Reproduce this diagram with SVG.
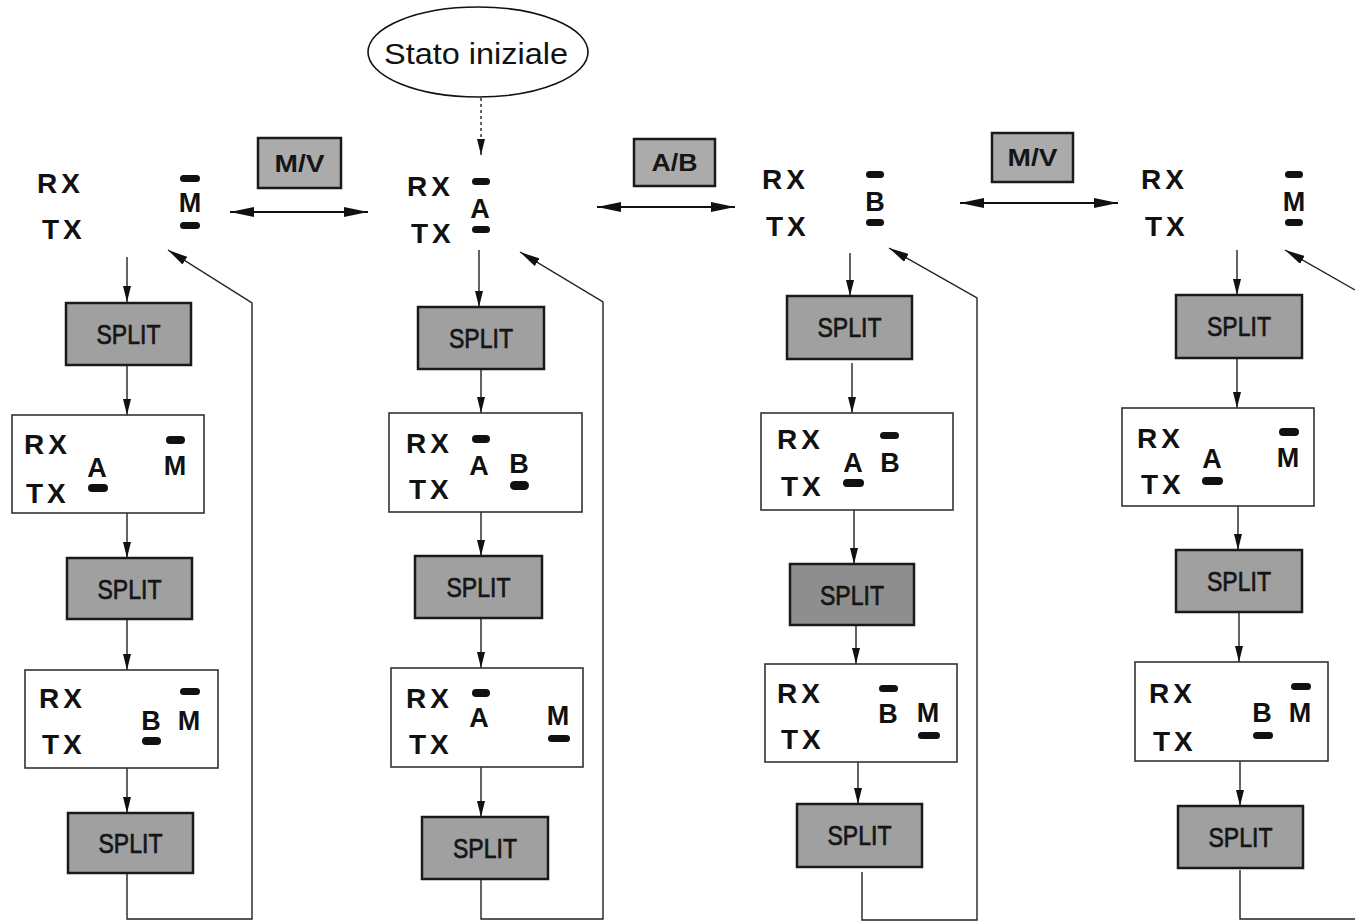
<svg xmlns="http://www.w3.org/2000/svg" width="1355" height="922" viewBox="0 0 1355 922">
<defs>
<style>
.rt{font-family:"Liberation Sans",Arial,sans-serif;font-weight:bold;font-size:28px;letter-spacing:4px;fill:#111}
.lt{font-family:"Liberation Sans",Arial,sans-serif;font-weight:bold;font-size:27px;text-anchor:middle;fill:#111}
.sp{fill:#a0a0a0;stroke:#1a1a1a;stroke-width:2.5}
.spt{font-family:"Liberation Sans",Arial,sans-serif;font-size:27px;text-anchor:middle;fill:#151515;stroke:#151515;stroke-width:0.7}
.wb{fill:#fff;stroke:#333;stroke-width:1.6}
.bar{fill:#111}
.sw{fill:#ababab;stroke:#1a1a1a;stroke-width:2.5}
.swt{font-family:"Liberation Sans",Arial,sans-serif;font-weight:bold;font-size:24px;text-anchor:middle;fill:#151515}
.ln{fill:none;stroke:#222;stroke-width:1.4}
.dl{fill:none;stroke:#111;stroke-width:2.2}
</style>
<marker id="ah" viewBox="0 0 16 8" refX="16" refY="4" markerWidth="16" markerHeight="8" markerUnits="userSpaceOnUse" orient="auto"><path d="M0,0 L16,4 L0,8 Z" fill="#111"/></marker>
<marker id="ad" viewBox="0 0 20 9" refX="20" refY="4.5" markerWidth="20" markerHeight="9" markerUnits="userSpaceOnUse" orient="auto"><path d="M0,0 L20,4.5 L0,9 Z" fill="#111"/></marker>
<marker id="ab" viewBox="0 0 24 10" refX="24" refY="5" markerWidth="24" markerHeight="10" markerUnits="userSpaceOnUse" orient="auto-start-reverse"><path d="M0,0 L24,5 L0,10 Z" fill="#111"/></marker>
</defs>
<rect width="1355" height="922" fill="#fff"/>

<g id="connectors">
<line x1="481" y1="98" x2="481" y2="155" class="ln" stroke-dasharray="3,3" marker-end="url(#ah)"/>
<line x1="230" y1="212" x2="368" y2="212" class="dl" marker-start="url(#ab)" marker-end="url(#ab)"/>
<line x1="597" y1="207" x2="735" y2="207" class="dl" marker-start="url(#ab)" marker-end="url(#ab)"/>
<line x1="960" y1="203" x2="1118" y2="203" class="dl" marker-start="url(#ab)" marker-end="url(#ab)"/>
<line x1="127" y1="257" x2="127" y2="302" class="ln" marker-end="url(#ah)"/>
<line x1="127" y1="365" x2="127" y2="415" class="ln" marker-end="url(#ah)"/>
<line x1="127" y1="513" x2="127" y2="558" class="ln" marker-end="url(#ah)"/>
<line x1="127" y1="619" x2="127" y2="670" class="ln" marker-end="url(#ah)"/>
<line x1="127" y1="768" x2="127" y2="813" class="ln" marker-end="url(#ah)"/>
<path d="M127,873 V919 H252 V303 L168,250" class="ln" marker-end="url(#ad)"/>
<line x1="479" y1="250" x2="479" y2="307" class="ln" marker-end="url(#ah)"/>
<line x1="481" y1="369" x2="481" y2="413" class="ln" marker-end="url(#ah)"/>
<line x1="481" y1="512" x2="481" y2="556" class="ln" marker-end="url(#ah)"/>
<line x1="481" y1="618" x2="481" y2="668" class="ln" marker-end="url(#ah)"/>
<line x1="481" y1="767" x2="481" y2="817" class="ln" marker-end="url(#ah)"/>
<path d="M481,879 V919 H603 V302 L520,252" class="ln" marker-end="url(#ad)"/>
<line x1="850" y1="253" x2="850" y2="296" class="ln" marker-end="url(#ah)"/>
<line x1="852" y1="363" x2="852" y2="413" class="ln" marker-end="url(#ah)"/>
<line x1="854" y1="510" x2="854" y2="564" class="ln" marker-end="url(#ah)"/>
<line x1="856" y1="625" x2="856" y2="664" class="ln" marker-end="url(#ah)"/>
<line x1="858" y1="762" x2="858" y2="804" class="ln" marker-end="url(#ah)"/>
<path d="M862,872 V920 H977 V298 L889,248" class="ln" marker-end="url(#ad)"/>
<line x1="1237" y1="250" x2="1237" y2="295" class="ln" marker-end="url(#ah)"/>
<line x1="1237" y1="358" x2="1237" y2="408" class="ln" marker-end="url(#ah)"/>
<line x1="1238" y1="506" x2="1238" y2="550" class="ln" marker-end="url(#ah)"/>
<line x1="1239" y1="612" x2="1239" y2="662" class="ln" marker-end="url(#ah)"/>
<line x1="1240" y1="761" x2="1240" y2="806" class="ln" marker-end="url(#ah)"/>
<path d="M1240,870 V919 H1355" class="ln"/>
<path d="M1355,290 L1285,250" class="ln" marker-end="url(#ad)"/>
</g>

<g id="init">
<ellipse cx="478" cy="52" rx="110" ry="45" fill="#fff" stroke="#111" stroke-width="1.6"/>
<text x="476" y="64" font-family="Liberation Sans, Arial, sans-serif" font-size="30" text-anchor="middle" fill="#111" textLength="184" lengthAdjust="spacingAndGlyphs">Stato iniziale</text>
</g>

<g id="sw1"><rect x="258" y="138" width="83" height="50" class="sw"/><text x="299.5" y="172" class="swt" textLength="50" lengthAdjust="spacingAndGlyphs">M/V</text></g>
<g id="sw2"><rect x="634" y="139" width="81" height="47" class="sw"/><text x="674.5" y="171" class="swt" textLength="46" lengthAdjust="spacingAndGlyphs">A/B</text></g>
<g id="sw3"><rect x="992" y="133" width="81" height="49" class="sw"/><text x="1032.5" y="166" class="swt" textLength="50" lengthAdjust="spacingAndGlyphs">M/V</text></g>

<g id="c1-head">
<text x="37" y="193" class="rt">RX</text><text x="42" y="239" class="rt">TX</text>
<rect x="180" y="175" width="20" height="7" rx="3.5" class="bar"/>
<text x="190" y="212" class="lt">M</text>
<rect x="180" y="222" width="20" height="7" rx="3.5" class="bar"/>
</g>
<g id="c1-split1"><rect x="66" y="303" width="125" height="62" class="sp"/><text x="128.5" y="344" class="spt" textLength="64" lengthAdjust="spacingAndGlyphs">SPLIT</text></g>
<g id="c1-box1">
<rect x="12" y="415" width="192" height="98" class="wb"/>
<text x="24" y="454" class="rt">RX</text><text x="26" y="503" class="rt">TX</text>
<text x="97" y="477" class="lt">A</text><rect x="88" y="484" width="20" height="8" rx="4" class="bar"/>
<rect x="166" y="436" width="19" height="8" rx="4" class="bar"/><text x="175" y="475" class="lt">M</text>
</g>
<g id="c1-split2"><rect x="67" y="558" width="125" height="61" class="sp"/><text x="129.5" y="599" class="spt" textLength="64" lengthAdjust="spacingAndGlyphs">SPLIT</text></g>
<g id="c1-box2">
<rect x="25" y="670" width="193" height="98" class="wb"/>
<text x="39" y="708" class="rt">RX</text><text x="42" y="754" class="rt">TX</text>
<text x="151" y="730" class="lt">B</text><rect x="142" y="737" width="19" height="8" rx="4" class="bar"/>
<rect x="180" y="688" width="20" height="7" rx="3.5" class="bar"/><text x="189" y="730" class="lt">M</text>
</g>
<g id="c1-split3"><rect x="68" y="813" width="125" height="60" class="sp"/><text x="130.5" y="853" class="spt" textLength="64" lengthAdjust="spacingAndGlyphs">SPLIT</text></g>

<g id="c2-head">
<text x="407" y="196" class="rt">RX</text><text x="411" y="243" class="rt">TX</text>
<rect x="472" y="178" width="18" height="7" rx="3.5" class="bar"/>
<text x="480" y="218" class="lt">A</text>
<rect x="472" y="226" width="18" height="7" rx="3.5" class="bar"/>
</g>
<g id="c2-split1"><rect x="418" y="307" width="126" height="62" class="sp"/><text x="481" y="348" class="spt" textLength="64" lengthAdjust="spacingAndGlyphs">SPLIT</text></g>
<g id="c2-box1">
<rect x="389" y="413" width="193" height="99" class="wb"/>
<text x="406" y="453" class="rt">RX</text><text x="409" y="499" class="rt">TX</text>
<rect x="472" y="435" width="18" height="8" rx="4" class="bar"/><text x="479" y="475" class="lt">A</text>
<text x="519" y="473" class="lt">B</text><rect x="510" y="481" width="19" height="9" rx="4.5" class="bar"/>
</g>
<g id="c2-split2"><rect x="415" y="556" width="127" height="62" class="sp"/><text x="478.5" y="597" class="spt" textLength="64" lengthAdjust="spacingAndGlyphs">SPLIT</text></g>
<g id="c2-box2">
<rect x="391" y="668" width="192" height="99" class="wb"/>
<text x="406" y="708" class="rt">RX</text><text x="409" y="754" class="rt">TX</text>
<rect x="472" y="689" width="18" height="8" rx="4" class="bar"/><text x="479" y="727" class="lt">A</text>
<text x="558" y="725" class="lt">M</text><rect x="548" y="735" width="22" height="7" rx="3.5" class="bar"/>
</g>
<g id="c2-split3"><rect x="422" y="817" width="126" height="62" class="sp"/><text x="485" y="858" class="spt" textLength="64" lengthAdjust="spacingAndGlyphs">SPLIT</text></g>

<g id="c3-head">
<text x="762" y="189" class="rt">RX</text><text x="766" y="236" class="rt">TX</text>
<rect x="866" y="171" width="18" height="7" rx="3.5" class="bar"/>
<text x="875" y="211" class="lt">B</text>
<rect x="866" y="219" width="18" height="7" rx="3.5" class="bar"/>
</g>
<g id="c3-split1"><rect x="787" y="296" width="125" height="63" class="sp"/><text x="849.5" y="337" class="spt" textLength="64" lengthAdjust="spacingAndGlyphs">SPLIT</text></g>
<g id="c3-box1">
<rect x="761" y="413" width="192" height="97" class="wb"/>
<text x="777" y="449" class="rt">RX</text><text x="781" y="496" class="rt">TX</text>
<text x="853" y="472" class="lt">A</text><rect x="843" y="479" width="21" height="8" rx="4" class="bar"/>
<rect x="880" y="432" width="19" height="7" rx="3.5" class="bar"/><text x="890" y="472" class="lt">B</text>
</g>
<g id="c3-split2"><rect x="790" y="564" width="124" height="61" class="sp" style="fill:#8e8e8e"/><text x="852" y="605" class="spt" textLength="64" lengthAdjust="spacingAndGlyphs">SPLIT</text></g>
<g id="c3-box2">
<rect x="765" y="664" width="192" height="98" class="wb"/>
<text x="777" y="703" class="rt">RX</text><text x="781" y="749" class="rt">TX</text>
<rect x="879" y="685" width="19" height="7" rx="3.5" class="bar"/><text x="888" y="723" class="lt">B</text>
<text x="928" y="722" class="lt">M</text><rect x="918" y="732" width="22" height="7" rx="3.5" class="bar"/>
</g>
<g id="c3-split3"><rect x="797" y="804" width="125" height="63" class="sp"/><text x="859.5" y="845" class="spt" textLength="64" lengthAdjust="spacingAndGlyphs">SPLIT</text></g>

<g id="c4-head">
<text x="1141" y="189" class="rt">RX</text><text x="1145" y="236" class="rt">TX</text>
<rect x="1285" y="171" width="18" height="7" rx="3.5" class="bar"/>
<text x="1294" y="211" class="lt">M</text>
<rect x="1285" y="219" width="18" height="7" rx="3.5" class="bar"/>
</g>
<g id="c4-split1"><rect x="1176" y="295" width="126" height="63" class="sp"/><text x="1239" y="336" class="spt" textLength="64" lengthAdjust="spacingAndGlyphs">SPLIT</text></g>
<g id="c4-box1">
<rect x="1122" y="408" width="192" height="98" class="wb"/>
<text x="1137" y="448" class="rt">RX</text><text x="1141" y="494" class="rt">TX</text>
<text x="1212" y="468" class="lt">A</text><rect x="1202" y="477" width="21" height="8" rx="4" class="bar"/>
<rect x="1279" y="428" width="20" height="8" rx="4" class="bar"/><text x="1288" y="467" class="lt">M</text>
</g>
<g id="c4-split2"><rect x="1176" y="550" width="126" height="62" class="sp"/><text x="1239" y="591" class="spt" textLength="64" lengthAdjust="spacingAndGlyphs">SPLIT</text></g>
<g id="c4-box2">
<rect x="1135" y="662" width="193" height="99" class="wb"/>
<text x="1149" y="703" class="rt">RX</text><text x="1153" y="751" class="rt">TX</text>
<text x="1262" y="722" class="lt">B</text><rect x="1253" y="732" width="20" height="7" rx="3.5" class="bar"/>
<rect x="1291" y="683" width="20" height="7" rx="3.5" class="bar"/><text x="1300" y="722" class="lt">M</text>
</g>
<g id="c4-split3"><rect x="1178" y="806" width="125" height="62" class="sp"/><text x="1240.5" y="847" class="spt" textLength="64" lengthAdjust="spacingAndGlyphs">SPLIT</text></g>
</svg>
